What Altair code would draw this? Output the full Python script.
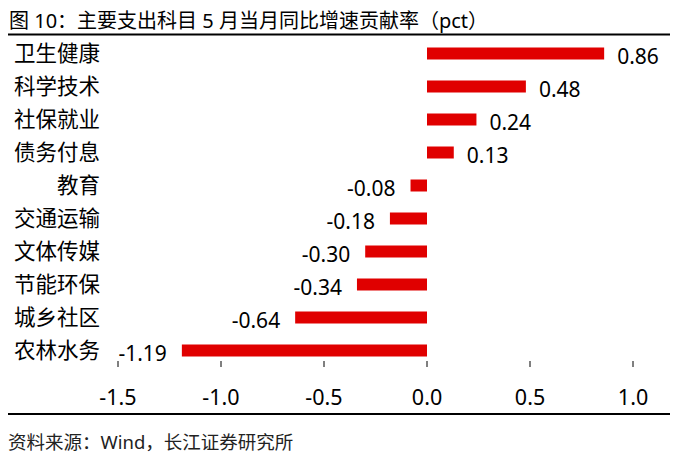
import altair as alt
import pandas as pd

categories = ["卫生健康", "科学技术", "社保就业", "债务付息", "教育",
              "交通运输", "文体传媒", "节能环保", "城乡社区", "农林水务"]
values = [0.86, 0.48, 0.24, 0.13, -0.08, -0.18, -0.30, -0.34, -0.64, -1.19]
x_ticks = [-1.5, -1.0, -0.5, 0.0, 0.5, 1.0]
x_tick_labels = ["-1.5", "-1.0", "-0.5", "0.0", "0.5", "1.0"]
title_text = "图 10：主要支出科目 5 月当月同比增速贡献率（pct）"
source_text = "资料来源：Wind，长江证券研究所"

FONT = "Noto Sans, Noto Sans CJK SC"
RED = "#E00000"
W, H = 515, 330

df = pd.DataFrame({"cat": categories, "val": values})
df["lab"] = [f"{v:.2f}" for v in values]
ticks_df = pd.DataFrame({"t": x_ticks, "tl": x_tick_labels})
one = pd.DataFrame({"a": [0]})

xscale = alt.Scale(domain=[-1.5, 1.0], nice=False, zero=False)
yscale = alt.Scale(paddingInner=0, paddingOuter=0)

zero_px = W * 1.5 / 2.5

bars = alt.Chart(df).mark_bar(color=RED, size=12).encode(
    x=alt.X("val:Q", scale=xscale,
            axis=alt.Axis(orient="bottom", values=x_ticks, labels=False,
                          ticks=False, tickSize=0, grid=False, title=None,
                          domainColor="#000", domainWidth=1.2)),
    y=alt.Y("cat:N", sort=categories, scale=yscale,
            axis=alt.Axis(orient="right", offset=-(W - zero_px), labels=False,
                          ticks=True, tickBand="extent", tickSize=6,
                          tickColor="#333", domainColor="#333", grid=False,
                          title=None)),
)

tick_rules = alt.Chart(ticks_df).mark_rule(color="#000", strokeWidth=1).encode(
    x=alt.X("t:Q", scale=xscale, axis=None),
    y=alt.value(H - 6),
    y2=alt.value(H),
)

tick_labels = alt.Chart(ticks_df).mark_text(
    align="center", baseline="alphabetic", fontSize=21.5, font=FONT, color="#000"
).encode(
    x=alt.X("t:Q", scale=xscale, axis=None),
    y=alt.value(H + 38.3),
    text="tl:N",
)

cat_labels = alt.Chart(df).mark_text(
    align="right", baseline="alphabetic", dy=7.7, fontSize=21.5, font=FONT, color="#000"
).encode(
    y=alt.Y("cat:N", sort=categories, scale=yscale, axis=None),
    x=alt.value(-18),
    text="cat:N",
)

pos_labels = alt.Chart(df).transform_filter("datum.val >= 0").mark_text(
    align="left", baseline="alphabetic", dx=13, dy=10.5, fontSize=21, font=FONT, color="#000"
).encode(
    x=alt.X("val:Q", scale=xscale, axis=None),
    y=alt.Y("cat:N", sort=categories, scale=yscale, axis=None),
    text="lab:N",
)

neg_labels = alt.Chart(df).transform_filter("datum.val < 0").mark_text(
    align="right", baseline="alphabetic", dx=-15, dy=10.5, fontSize=21, font=FONT, color="#000"
).encode(
    x=alt.X("val:Q", scale=xscale, axis=None),
    y=alt.Y("cat:N", sort=categories, scale=yscale, axis=None),
    text="lab:N",
)

title = alt.Chart(one).mark_text(
    text=title_text, align="left", baseline="alphabetic", fontSize=20, font=FONT, color="#000"
).encode(x=alt.value(-109), y=alt.value(-8.7))

top_line = alt.Chart(one).mark_rule(color="#000", strokeWidth=2).encode(
    x=alt.value(-110), x2=alt.value(552), y=alt.value(-2.4))

bottom_line = alt.Chart(one).mark_rule(color="#000", strokeWidth=2).encode(
    x=alt.value(-110), x2=alt.value(552), y=alt.value(377))

source = alt.Chart(one).mark_text(
    text=source_text, align="left", baseline="alphabetic", fontSize=18.5, font=FONT, color="#222"
).encode(x=alt.value(-110), y=alt.value(411.6))

chart = alt.layer(
    bars, tick_rules, tick_labels, cat_labels, pos_labels, neg_labels,
    title, top_line, bottom_line, source
).properties(
    width=W, height=H,
    autosize=alt.AutoSizeParams(type="none"),
    padding={"left": 110, "top": 29, "right": 39, "bottom": 90},
).configure(font=FONT).configure_view(stroke=None)

chart.save("out.html", embed_options={"renderer": "svg", "actions": False})
